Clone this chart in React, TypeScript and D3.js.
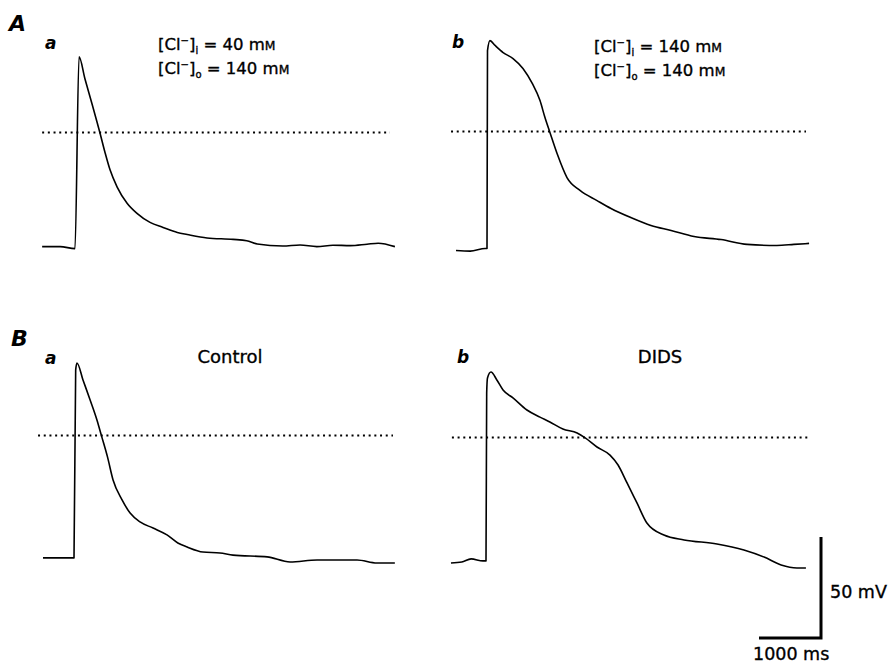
import React from 'react';
import * as d3 from 'd3';

// Action potential traces: time (ms, 0 = upstroke) and membrane potential (mV, 0 = dotted line)
const tAa = [-530, -240, 0, 65, 160, 275, 355, 405, 485, 565, 680, 840, 1000, 1210, 1420, 1650, 1810, 2130, 2550, 2770, 2940, 3350, 3630, 3900, 4160, 4440, 4710, 4890, 5160];
const vAa = [-56.5, -56.5, -57.5, 37.5, 26.6, 14.1, 5.2, -0.5, -10, -18.5, -27, -35, -40, -44.5, -47, -49.5, -50.5, -52.2, -52.9, -53.6, -55.2, -56.2, -55.7, -56.5, -55.8, -56, -55.3, -54.8, -56.5];

const tAb = [-500, -270, -30, 0, 8, 48, 130, 260, 420, 580, 730, 855, 935, 1015, 1130, 1290, 1500, 1775, 2000, 2320, 2645, 2970, 3340, 3775, 4195, 4675, 4950, 5195];
const vAb = [-58.9, -59.2, -57.9, -57.9, 40, 45, 42.6, 39.1, 36.1, 31.2, 23.8, 15.3, 6.9, -0.5, -10.9, -22.8, -29.2, -34.2, -38.1, -42.6, -46.5, -49, -52, -53.5, -55.9, -56.4, -55.9, -55.4];

const tBa = [-500, -240, 0, 27, 48, 145, 260, 370, 440, 540, 630, 775, 905, 1065, 1275, 1500, 1675, 1825, 2080, 2355, 2565, 3115, 3485, 3920, 4565, 4885, 5175];
const vBa = [-60.6, -60.6, -60.6, 32.4, 35.9, 27.5, 17.6, 7.7, 0.2, -10.6, -22, -31.9, -38.4, -42.8, -45.8, -49.2, -53.2, -55.2, -57.7, -58.2, -59.2, -60.1, -62.6, -61.6, -61.6, -63.1, -63.1];

const tBb = [-565, -390, -240, -50, 0, 11, 24, 80, 175, 275, 435, 660, 870, 1030, 1240, 1470, 1600, 1790, 2000, 2130, 2275, 2435, 2595, 2870, 3195, 3725, 4160, 4485, 4760, 5015, 5160];
const vBb = [-62.1, -61.6, -60.1, -61.1, -61.1, 22, 29.5, 32.4, 28.5, 23.5, 19.6, 13.6, 10.1, 7.7, 4.2, 2.2, -0.2, -4.7, -8.7, -13.6, -22.5, -32.4, -42.3, -48.3, -50.7, -52.7, -55.7, -59.2, -63.1, -64.6, -64.6];

// dotted reference line (0 mV) extent per panel, ms
const zeroAa = [-530, 5080];
const zeroAb = [-580, 5145];
const zeroBa = [-580, 5145];
const zeroBb = [-550, 5240];

const scaleBarMs = 1000;
const scaleBarMv = 50;

const W = 888;
const H = 663;
const PX_PER_SEC = 62;
const PX_PER_50MV = 101;
const font = 'DejaVu Sans';
const ink = { fill: '#000', stroke: '#000', strokeWidth: 0.35 };

const panels = [
  { t: tAa, v: vAa, zero: zeroAa, x0: 75, y0: 132.5 },
  { t: tAb, v: vAb, zero: zeroAb, x0: 487, y0: 131.5 },
  { t: tBa, v: vBa, zero: zeroBa, x0: 74, y0: 435.5 },
  { t: tBb, v: vBb, zero: zeroBb, x0: 486, y0: 437.5 },
];

function ClLabel({ x, y, sub, value }: { x: number; y: number; sub: string; value: string }) {
  return (
    <text x={x} y={y} fontSize={16.5} fontFamily={font} {...ink}>
      [Cl
      <tspan fontSize={10} dy={-6}>−</tspan>
      <tspan dy={6}>]</tspan>
      <tspan fontSize={10} dy={4}>{sub}</tspan>
      <tspan dy={-4}>{' = ' + value + ' m'}</tspan>
      <tspan fontSize={12.4}>M</tspan>
    </text>
  );
}

export default function App() {
  const traces = panels.map((p, i) => {
    const x = d3.scaleLinear().domain([0, 1000]).range([p.x0, p.x0 + PX_PER_SEC]);
    const y = d3.scaleLinear().domain([0, 50]).range([p.y0, p.y0 - PX_PER_50MV]);
    const line = d3.line<number>()
      .x((_, j) => x(p.t[j]))
      .y(d => y(d))
      .curve(d3.curveMonotoneX);
    return (
      <g key={i}>
        <line x1={x(p.zero[0])} x2={x(p.zero[1])} y1={y(0)} y2={y(0)}
          stroke="#000" strokeWidth={1.8} strokeDasharray="2 3.7" />
        <path d={line(p.v) || ''} fill="none" stroke="#000" strokeWidth={1.6} strokeLinejoin="round" />
      </g>
    );
  });

  // scale bar, corner at bottom right
  const sx = d3.scaleLinear().domain([0, 1000]).range([821 - PX_PER_SEC, 821]);
  const sy = d3.scaleLinear().domain([0, 50]).range([638, 638 - PX_PER_50MV]);

  const tag = { fontStyle: 'italic', fontWeight: 'bold', fontFamily: font } as const;

  return (
    <svg width={W} height={H} style={{ position: 'absolute', left: 0, top: 0, background: '#fff' }}>
      <rect width={W} height={H} fill="#fff" />
      {traces}

      <text x={9} y={31} fontSize={22} {...tag}>A</text>
      <text x={11} y={346} fontSize={22} {...tag}>B</text>

      <text x={45} y={49} fontSize={17} {...tag}>a</text>
      <text x={452} y={48} fontSize={17} {...tag}>b</text>
      <text x={45} y={364} fontSize={17} {...tag}>a</text>
      <text x={457} y={363} fontSize={17} {...tag}>b</text>

      <ClLabel x={158} y={50} sub="i" value="40" />
      <ClLabel x={158} y={74} sub="o" value="140" />
      <ClLabel x={594} y={52} sub="i" value="140" />
      <ClLabel x={594} y={76} sub="o" value="140" />

      <text x={230} y={363} fontSize={18} fontFamily={font} textAnchor="middle" {...ink}>Control</text>
      <text x={660} y={363} fontSize={18} fontFamily={font} textAnchor="middle" {...ink}>DIDS</text>

      <path d={`M${sx(0)},${sy(0)}H${sx(scaleBarMs)}V${sy(scaleBarMv)}`} fill="none" stroke="#000" strokeWidth={3} />
      <text x={830} y={598} fontSize={17.5} fontFamily={font} {...ink}>{scaleBarMv} mV</text>
      <text x={753} y={660} fontSize={17.5} fontFamily={font} {...ink}>{scaleBarMs} ms</text>
    </svg>
  );
}
